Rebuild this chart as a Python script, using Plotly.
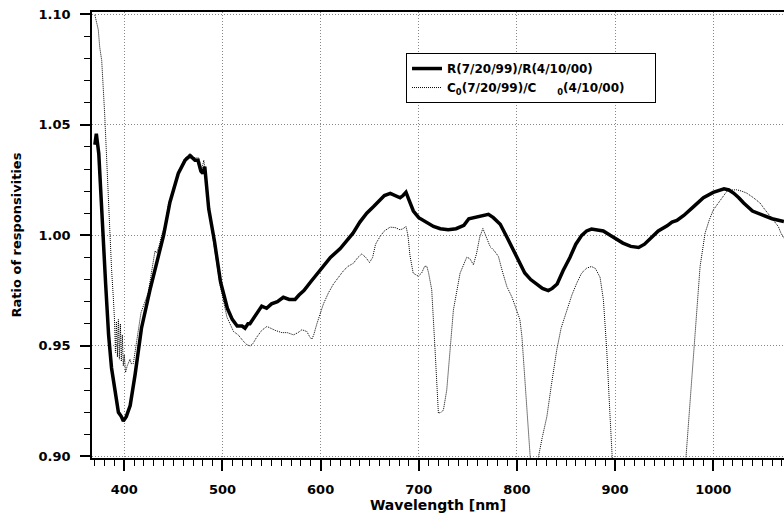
import plotly.graph_objects as go

# Solid curve: R(7/20/99)/R(4/10/00)
r_wavelength = [370, 371.5, 374, 376, 378, 381, 384, 387, 390.5, 394, 397, 399, 402, 406, 411, 417.5,
                426, 434.5, 440, 446.5, 448, 455, 462, 467, 472, 475, 478, 480, 482, 484, 486, 492, 498,
                505, 510, 515, 520, 523, 526, 528, 534, 540, 545, 550, 556, 562, 568, 574, 578, 583, 590,
                599, 610, 620, 627, 633, 640, 647, 654, 660, 665, 671, 676, 681, 684, 687, 690, 694.5,
                700, 708, 715, 722, 730, 738, 746, 751, 756, 763, 771, 776, 783, 790, 797, 803, 808, 814,
                820, 826, 832, 836, 841, 847, 854, 860, 866, 871, 876, 882, 888, 895, 903, 908, 916, 924,
                930, 936, 944, 953, 958, 963, 970, 980, 990, 1000, 1006, 1011, 1016, 1021, 1026, 1031,
                1040, 1051, 1060, 1072]
r_ratio = [1.041, 1.046, 1.037, 1.018, 0.998, 0.978, 0.955, 0.940, 0.930, 0.920, 0.918, 0.916, 0.918,
           0.923, 0.937, 0.958, 0.975, 0.990, 1.000, 1.015, 1.0175, 1.028, 1.034, 1.036, 1.034, 1.034,
           1.029, 1.028, 1.031, 1.022, 1.012, 0.997, 0.979, 0.967, 0.962, 0.959, 0.959, 0.958, 0.960,
           0.960, 0.964, 0.968, 0.967, 0.969, 0.970, 0.972, 0.971, 0.971, 0.973, 0.975, 0.979, 0.984,
           0.990, 0.994, 0.998, 1.001, 1.006, 1.010, 1.013, 1.016, 1.018, 1.019, 1.018, 1.017, 1.018,
           1.0195, 1.016, 1.011, 1.008, 1.006, 1.004, 1.003, 1.0025, 1.003, 1.0045, 1.0075, 1.008,
           1.009, 1.0095, 1.008, 1.005, 0.999, 0.993, 0.987, 0.983, 0.980, 0.978, 0.976, 0.975, 0.976,
           0.978, 0.984, 0.990, 0.996, 1.000, 1.002, 1.0028, 1.0025, 1.002, 1.000, 0.998, 0.9965,
           0.995, 0.9945, 0.996, 0.9987, 1.002, 1.0043, 1.006, 1.0067, 1.009, 1.013, 1.017, 1.0194,
           1.0205, 1.021, 1.0205, 1.019, 1.017, 1.0146, 1.011, 1.0093, 1.0075, 1.0062]

# Dotted curve: C0(7/20/99)/C0(4/10/00)
c_wavelength = [370, 371, 373.5, 375, 377, 380, 383.7, 385.4, 387, 388.8, 390, 391, 392, 393, 394, 395,
                396, 397, 398, 399, 400, 401.3, 403, 405.8, 407, 409.2, 412, 414.3, 417, 419.4, 424.4,
                428, 431.3, 433, 436, 438, 441.4, 445, 449, 455, 462, 467, 472, 476, 479, 481, 484, 487,
                491, 497.8, 504.6, 511.3, 516, 521.5, 525, 528.3, 531, 535, 540, 545.3, 549, 553.8,
                560.6, 566, 572.4, 577, 580.9, 586, 589, 591.1, 593, 596.2, 602.9, 608, 613.1, 618,
                623.3, 628, 633.5, 638, 642, 646, 649.8, 653, 656, 660.6, 665, 670.8, 676, 681, 684, 687,
                689, 691, 694.3, 699.5, 703, 706, 708.2, 710, 713.2, 716.6, 720, 723, 725.1, 728.5,
                731.9, 735.3, 742.1, 748.9, 752, 755.7, 759, 762, 765.3, 768, 772.7, 777, 781.2, 785,
                789.8, 795, 800, 803, 805.1, 808.4, 811.8, 813.5, 817.5, 822, 826, 830.5, 835, 840.6,
                845, 850.8, 856, 861, 866, 871.2, 876, 880, 884.7, 888.1, 891.5, 894.9, 896.6, 900, 935,
                970, 972.3, 976.4, 981.5, 986.6, 991.7, 996, 1000.1, 1007, 1013.7, 1019, 1023.9, 1029,
                1034.1, 1041, 1047.7, 1052, 1057.9, 1062, 1066.3, 1069, 1072]
c_ratio = [1.0997, 1.098, 1.093, 1.085, 1.079, 1.055, 1.019, 0.997, 0.985, 0.972, 0.962, 0.947, 0.961,
           0.945, 0.962, 0.944, 0.960, 0.943, 0.955, 0.941, 0.946, 0.938, 0.941, 0.944, 0.942, 0.942,
           0.950, 0.957, 0.965, 0.968, 0.974, 0.984, 0.993, 0.992, 0.996, 1.000, 1.004, 1.014, 1.019,
           1.029, 1.035, 1.037, 1.035, 1.035, 1.030, 1.034, 1.024, 1.010, 0.9965, 0.977, 0.963,
           0.9565, 0.955, 0.952, 0.9505, 0.950, 0.951, 0.954, 0.957, 0.9588, 0.958, 0.957, 0.956,
           0.956, 0.955, 0.956, 0.9573, 0.9565, 0.954, 0.953, 0.955, 0.960, 0.969, 0.974, 0.978,
           0.981, 0.984, 0.986, 0.9874, 0.990, 0.9916, 0.990, 0.9877, 0.990, 0.996, 0.9995, 1.002,
           1.0037, 1.0035, 1.0025, 1.003, 1.004, 1.000, 0.991, 0.9829, 0.9815, 0.983, 0.986, 0.986,
           0.983, 0.9754, 0.9482, 0.9196, 0.920, 0.921, 0.930, 0.9482, 0.9663, 0.9829, 0.9901,
           0.9895, 0.9867, 0.992, 0.999, 1.0031, 1.000, 0.9949, 0.993, 0.9904, 0.984, 0.9768, 0.972,
           0.9663, 0.962, 0.9542, 0.9332, 0.9106, 0.900, 0.884, 0.900, 0.909, 0.918, 0.932, 0.9482,
           0.958, 0.9663, 0.973, 0.9784, 0.983, 0.9852, 0.9859, 0.985, 0.981, 0.9709, 0.9482, 0.918,
           0.9007, 0.875, 0.800, 0.880, 0.900, 0.9256, 0.9558, 0.9859, 1.001, 1.007, 1.0115, 1.016,
           1.0198, 1.0205, 1.0206, 1.020, 1.0191, 1.017, 1.0146, 1.012, 1.0085, 1.006, 1.004, 1.001,
           0.9987]

x_ticks = [400, 500, 600, 700, 800, 900, 1000]
y_ticks = [0.90, 0.95, 1.00, 1.05, 1.10]

FONT = "DejaVu Sans"

fig = go.Figure()
fig.add_trace(go.Scatter(
    x=r_wavelength, y=r_ratio, mode="lines",
    name="R(7/20/99)/R(4/10/00)",
    line=dict(color="black", width=3.5),
))
fig.add_trace(go.Scatter(
    x=c_wavelength, y=c_ratio, mode="lines",
    name="C<sub>0</sub>(7/20/99)/C&nbsp;&nbsp;&nbsp;&nbsp;&nbsp;<sub>0</sub>(4/10/00)"
         "&nbsp;&nbsp;&nbsp;&nbsp;&nbsp;&nbsp;",
    line=dict(color="black", width=1, dash="1px,1px"),
))

fig.update_layout(
    width=784, height=519,
    margin=dict(l=92, r=0, t=12, b=61),
    paper_bgcolor="white", plot_bgcolor="white",
    font=dict(family=FONT, size=13, color="black", weight="bold"),
    legend=dict(
        x=0.4538, y=0.908, xanchor="left", yanchor="top",
        bgcolor="white", bordercolor="black", borderwidth=1,
        font=dict(family=FONT, size=12, color="black", weight="bold"),
        tracegroupgap=0,
    ),
    xaxis=dict(
        range=[367.1, 1072.1], automargin=False,
        tickvals=x_ticks,
        ticks="outside", ticklen=11, tickwidth=1.5, tickcolor="black",
        ticklabelstandoff=8,
        showline=True, linecolor="black", linewidth=1.5, mirror=True,
        showgrid=True, gridcolor="#888", gridwidth=1, griddash="1px,2px",
        zeroline=False,
        minor=dict(dtick=10, tick0=0, ticks="outside", ticklen=6, tickwidth=1,
                   tickcolor="black", showgrid=False),
        tickfont=dict(family=FONT, size=13, weight="bold"),
        title=dict(text="Wavelength [nm]", standoff=4,
                   font=dict(family=FONT, size=14, weight="bold")),
    ),
    yaxis=dict(
        range=[0.8993, 1.101], automargin=False,
        tickvals=y_ticks, tickformat=".2f",
        ticks="outside", ticklen=10, tickwidth=1.5, tickcolor="black",
        ticklabelstandoff=7,
        showline=True, linecolor="black", linewidth=1.5, mirror=False,
        showgrid=True, gridcolor="#888", gridwidth=1, griddash="1px,2px",
        zeroline=False,
        minor=dict(dtick=0.01, tick0=0.9, ticks="outside", ticklen=6, tickwidth=1,
                   tickcolor="black", showgrid=False),
        tickfont=dict(family=FONT, size=13, weight="bold"),
        title=dict(text="Ratio of responsivities", standoff=14,
                   font=dict(family=FONT, size=13, weight="bold")),
    ),
)

fig.write_html(
    "out.html",
    config={"displayModeBar": False},
    post_script="document.body.style.margin='0';document.body.style.padding='0';",
)
